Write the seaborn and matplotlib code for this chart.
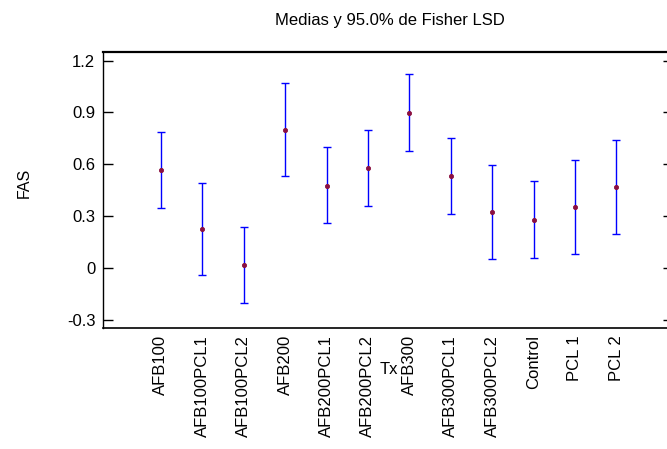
import matplotlib
matplotlib.use("Agg")
import matplotlib.pyplot as plt
import seaborn as sns
import pandas as pd

categories = ["AFB100", "AFB100PCL1", "AFB100PCL2", "AFB200", "AFB200PCL1",
              "AFB200PCL2", "AFB300", "AFB300PCL1", "AFB300PCL2", "Control",
              "PCL 1", "PCL 2"]
means = [0.565, 0.223, 0.014, 0.801, 0.476, 0.577, 0.896, 0.532, 0.323, 0.279, 0.351, 0.467]
lower = [0.345, -0.044, -0.201, 0.532, 0.258, 0.356, 0.676, 0.312, 0.052, 0.058, 0.081, 0.197]
upper = [0.786, 0.493, 0.234, 1.072, 0.702, 0.801, 1.120, 0.751, 0.598, 0.505, 0.627, 0.741]
yticks = [-0.3, 0, 0.3, 0.6, 0.9, 1.2]
ytick_labels = ["-0.3", "0", "0.3", "0.6", "0.9", "1.2"]

df = pd.DataFrame({"Tx": categories, "FAS": means, "lo": lower, "hi": upper})

sns.set_style("white")
plt.rcParams["font.family"] = ["Liberation Sans", "DejaVu Sans"]
plt.rcParams["text.color"] = "black"
plt.rcParams["axes.labelcolor"] = "black"
plt.rcParams["xtick.color"] = "black"
plt.rcParams["ytick.color"] = "black"

fig = plt.figure(figsize=(6.67, 4.49), dpi=100)
ax = fig.add_axes([103/667, 1-328/449, 570/667, 276/449])

yerr = [df["FAS"] - df["lo"], df["hi"] - df["FAS"]]
ax.errorbar(df["Tx"], df["FAS"], yerr=yerr, fmt="none", ecolor="#0000FF",
            elinewidth=1.0, capsize=3.2, capthick=1.0, zorder=2)
sns.scatterplot(data=df, x="Tx", y="FAS", ax=ax, marker="o", s=9,
                color="#8B1040", edgecolor="#8B1040", linewidth=0.6, zorder=3)

ax.set_xlim(-1.40, 12.37)
ax.set_ylim(-0.348, 1.25)
ax.set_yticks(yticks)
ax.set_yticklabels(ytick_labels)
ax.tick_params(axis="y", direction="in", length=7.5, width=1.0, labelsize=12,
               left=True, right=True, pad=5.5, colors="black")
ax.tick_params(axis="x", length=0, labelsize=12, rotation=90, pad=5, colors="black")
for lab in ax.get_xticklabels():
    lab.set_verticalalignment("top")
ax.set_xlabel("")
ax.set_ylabel("")
for s in ["left", "bottom", "top", "right"]:
    ax.spines[s].set_visible(True)
    ax.spines[s].set_color("black")
ax.spines["left"].set_linewidth(1.0)
ax.spines["bottom"].set_linewidth(1.2)
ax.spines["top"].set_linewidth(1.6)
ax.spines["right"].set_linewidth(1.0)

fig.text(390/667, 1-20/449, "Medias y 95.0% de Fisher LSD", ha="center", va="center", fontsize=12)
fig.text(24/667, 1-183/449, "FAS", ha="center", va="center", rotation=90, fontsize=11.5)
fig.text(389/667, 1-370/449, "Tx", ha="center", va="center", fontsize=12)

fig.savefig("out.png", dpi=100)
